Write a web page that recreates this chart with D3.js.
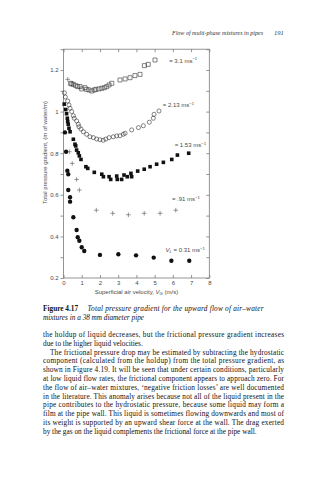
<!DOCTYPE html>
<html>
<head>
<meta charset="utf-8">
<script src="https://cdn.jsdelivr.net/npm/d3@7/dist/d3.min.js"></script>
<style>
  html, body { margin: 0; padding: 0; background: #fff; }
  svg { display: block; }
</style>
</head>
<body>
<svg id="page" width="329" height="480"></svg>
<script>
// Superficial air velocity (m/s) and total pressure gradient (m of water / m)
// for each superficial liquid velocity.
const vl310X = [0.39, 0.45, 0.54, 0.67, 0.78, 0.91, 1.0, 1.18, 1.27, 1.40, 1.55, 1.69, 1.78, 1.95, 2.10, 2.24, 2.37, 2.50, 2.65, 3.10, 3.38, 3.65, 3.92, 4.20, 4.44, 4.65, 5.02];
const vl310Y = [1.136, 1.133, 1.131, 1.125, 1.120, 1.120, 1.109, 1.115, 1.107, 1.104, 1.099, 1.104, 1.107, 1.109, 1.112, 1.115, 1.120, 1.128, 1.136, 1.152, 1.157, 1.163, 1.173, 1.179, 1.221, 1.227, 1.248];

const vl213X = [0.05, 0.10, 0.23, 0.30, 0.36, 0.45, 0.54, 0.59, 0.72, 0.81, 0.85, 0.96, 1.09, 1.27, 1.45, 1.64, 1.82, 2.00, 2.18, 2.32, 2.50, 2.73, 2.92, 3.10, 3.28, 3.38, 3.74, 4.11, 4.38, 4.71, 4.93, 4.97, 5.24];
const vl213Y = [1.09, 1.07, 1.051, 1.032, 1.016, 1.0, 0.98, 0.968, 0.955, 0.939, 0.927, 0.916, 0.903, 0.891, 0.879, 0.875, 0.868, 0.865, 0.862, 0.868, 0.875, 0.879, 0.883, 0.884, 0.891, 0.896, 0.912, 0.923, 0.932, 0.949, 0.968, 0.987, 1.003];

const vl153X = [0.04, 0.12, 0.17, 0.21, 0.23, 0.26, 0.30, 0.36, 0.54, 0.63, 0.67, 0.72, 0.81, 0.87, 0.96, 1.23, 1.33, 1.69, 2.10, 2.19, 2.50, 2.59, 2.92, 2.95, 3.19, 3.32, 3.50, 3.70, 3.74, 4.07, 4.43, 4.75, 5.11, 5.48, 5.94, 6.25, 6.87];
const vl153Y = [1.036, 1.01, 0.99, 0.968, 0.952, 0.939, 0.92, 0.903, 0.867, 0.843, 0.835, 0.815, 0.802, 0.787, 0.77, 0.735, 0.727, 0.708, 0.699, 0.687, 0.687, 0.674, 0.69, 0.674, 0.674, 0.695, 0.687, 0.703, 0.687, 0.714, 0.723, 0.735, 0.747, 0.756, 0.77, 0.791, 0.80];

const vl091X = [0.23, 0.32, 0.48, 0.72, 0.87, 1.80, 2.70, 3.56, 4.43, 5.30, 6.16];
const vl091Y = [1.155, 0.807, 0.751, 0.674, 0.623, 0.526, 0.511, 0.504, 0.511, 0.511, 0.526];

const vl031X = [0.08, 0.14, 0.21, 0.26, 0.26, 0.36, 0.36, 0.54, 0.72, 0.78, 0.87, 1.0, 1.14, 2.0, 3.01, 3.98, 4.95, 5.92, 6.90];
const vl031Y = [0.90, 0.807, 0.716, 0.699, 0.623, 0.588, 0.567, 0.492, 0.431, 0.396, 0.379, 0.348, 0.330, 0.311, 0.314, 0.309, 0.298, 0.283, 0.283];

// Axis ticks
const xTicks = [0, 1, 2, 3, 4, 5, 6, 7, 8];
const yTicks = [0.2, 0.3, 0.4, 0.5, 0.6, 0.7, 0.8, 0.9, 1.0, 1.1, 1.2, 1.3];
const yTickLabels = ["0.2", "", "0.4", "", "0.6", "", "0.8", "", "1", "", "1.2", ""];

// Series labels placed beside the end of each series
const seriesLabels = [
  { prefix: "", text: "= 3.1 ms", gx: 5.8, gy: 1.245 },
  { prefix: "", text: "= 2.13 ms", gx: 5.45, gy: 1.03 },
  { prefix: "", text: "= 1.53 ms", gx: 6.1, gy: 0.84 },
  { prefix: "", text: "= .91 ms", gx: 5.95, gy: 0.578 },
  { prefix: "V", text: " = 0.31 ms", gx: 5.6, gy: 0.335 }
];

const svg = d3.select("#page");

const x = d3.scaleLinear().domain([0, 8]).range([63.5, 209.3]);
const y = d3.scaleLinear().domain([0.2, 1.3]).range([278, 49.2]);

const axisColor = "#7a7a7a";
const labelColor = "#4a4a4a";
const sans = "'Liberation Sans', Arial, sans-serif";
const serif = "'Liberation Serif', 'Times New Roman', serif";

// Running head
const head = svg.append("text")
  .attr("y", 35)
  .attr("font-family", serif)
  .attr("font-size", 6.6)
  .attr("font-style", "italic")
  .attr("fill", "#333");
head.append("tspan").attr("x", 172)
  .attr("textLength", 91).attr("lengthAdjust", "spacingAndGlyphs")
  .text("Flow of multi-phase mixtures in pipes");
head.append("tspan").attr("x", 274).text("191");

// Plot frame
const g = svg.append("g");
g.append("rect")
  .attr("x", x(0)).attr("y", y(1.3))
  .attr("width", x(8) - x(0)).attr("height", y(0.2) - y(1.3))
  .attr("fill", "none").attr("stroke", axisColor).attr("stroke-width", 0.8);

const tickStyle = sel => {
  sel.select(".domain").remove();
  sel.selectAll(".tick line").attr("stroke", axisColor).attr("stroke-width", 0.8);
  sel.selectAll(".tick text").attr("fill", labelColor).attr("font-family", sans).attr("font-size", 6);
};

g.append("g").attr("transform", `translate(0,${y(0.2)})`)
  .call(d3.axisBottom(x).tickValues(xTicks).tickFormat(d3.format("d")).tickSize(-3).tickPadding(3))
  .call(tickStyle);
g.append("g").attr("transform", `translate(0,${y(1.3)})`)
  .call(d3.axisTop(x).tickValues(xTicks).tickFormat("").tickSize(-3))
  .call(tickStyle);
g.append("g").attr("transform", `translate(${x(0)},0)`)
  .call(d3.axisLeft(y).tickValues(yTicks).tickFormat((d, i) => yTickLabels[i]).tickSize(3).tickPadding(2))
  .call(tickStyle);
g.append("g").attr("transform", `translate(${x(8)},0)`)
  .call(d3.axisRight(y).tickValues(yTicks).tickFormat("").tickSize(-3))
  .call(tickStyle);

// Axis titles
g.append("text")
  .attr("transform", `translate(47,${(y(0.2) + y(1.3)) / 2 - 11}) rotate(-90)`)
  .attr("text-anchor", "middle")
  .attr("font-family", sans).attr("font-size", 6).attr("fill", labelColor)
  .text("Total pressure gradient, (m of water/m)");

const xt = g.append("text")
  .attr("x", (x(0) + x(8)) / 2).attr("y", 294)
  .attr("text-anchor", "middle")
  .attr("font-family", sans).attr("font-size", 6).attr("fill", labelColor);
xt.append("tspan").text("Superficial air velocity, ");
xt.append("tspan").attr("font-style", "italic").text("V");
xt.append("tspan").attr("font-style", "italic").attr("font-size", 4.2).attr("dy", 1.3).text("G");
xt.append("tspan").attr("dy", -1.3).text(" (m/s)");

// Marker shapes
const plusType = {
  draw(ctx, size) {
    const r = Math.sqrt(size) / 2;
    ctx.moveTo(-r, 0); ctx.lineTo(r, 0);
    ctx.moveTo(0, -r); ctx.lineTo(0, r);
  }
};
const series = [
  { xs: vl310X, ys: vl310Y, type: d3.symbolSquare, size: 16, fill: "none", stroke: "#333", sw: 0.6 },
  { xs: vl213X, ys: vl213Y, type: d3.symbolCircle, size: 13, fill: "none", stroke: "#333", sw: 0.6 },
  { xs: vl153X, ys: vl153Y, type: d3.symbolSquare, size: 13, fill: "#111", stroke: "none", sw: 0 },
  { xs: vl091X, ys: vl091Y, type: plusType, size: 22, fill: "none", stroke: "#555", sw: 0.6 },
  { xs: vl031X, ys: vl031Y, type: d3.symbolCircle, size: 15, fill: "#111", stroke: "none", sw: 0 }
];

series.forEach(s => {
  const pts = s.xs.map((v, i) => [v, s.ys[i]]);
  g.append("g").selectAll("path").data(pts).join("path")
    .attr("transform", d => `translate(${x(d[0])},${y(d[1])})`)
    .attr("d", d3.symbol(s.type, s.size))
    .attr("fill", s.fill)
    .attr("stroke", s.stroke)
    .attr("stroke-width", s.sw);
});

// Series labels with ms^-1 units
seriesLabels.forEach(l => {
  const t = g.append("text")
    .attr("x", x(l.gx)).attr("y", y(l.gy) + 2)
    .attr("font-family", sans).attr("font-size", 6).attr("fill", labelColor);
  if (l.prefix) {
    t.append("tspan").attr("font-style", "italic").text(l.prefix);
    t.append("tspan").attr("font-style", "italic").attr("font-size", 4.2).attr("dy", 1.3).text("L");
    t.append("tspan").attr("dy", -1.3).text(l.text);
  } else {
    t.append("tspan").text(l.text);
  }
  t.append("tspan").attr("font-size", 4.2).attr("dy", -2.3).text("\u22121");
});

// Caption
const cap = svg.append("text")
  .attr("y", 311)
  .attr("font-family", serif).attr("font-size", 7.3).attr("fill", "#111");
cap.append("tspan").attr("x", 43).attr("font-weight", "bold").text("Figure 4.17");
cap.append("tspan").attr("x", 87.5).attr("font-style", "italic")
  .attr("textLength", 176).attr("lengthAdjust", "spacing")
  .text("Total pressure gradient for the upward flow of air\u2013water");
svg.append("text")
  .attr("x", 43).attr("y", 320)
  .attr("font-family", serif).attr("font-size", 7.3).attr("font-style", "italic").attr("fill", "#111")
  .text("mixtures in a 38\u2009mm diameter pipe");

// Body text: [line, indent, justified]
const bodyLines = [
  ["the holdup of liquid decreases, but the frictional pressure gradient increases", 0, true],
  ["due to the higher liquid velocities.", 0, false],
  ["The frictional pressure drop may be estimated by subtracting the hydrostatic", 7, true],
  ["component (calculated from the holdup) from the total pressure gradient, as", 0, true],
  ["shown in Figure 4.19. It will be seen that under certain conditions, particularly", 0, true],
  ["at low liquid flow rates, the frictional component appears to approach zero. For", 0, true],
  ["the flow of air\u2013water mixtures, \u2018negative friction losses\u2019 are well documented", 0, true],
  ["in the literature. This anomaly arises because not all of the liquid present in the", 0, true],
  ["pipe contributes to the hydrostatic pressure, because some liquid may form a", 0, true],
  ["film at the pipe wall. This liquid is sometimes flowing downwards and most of", 0, true],
  ["its weight is supported by an upward shear force at the wall. The drag exerted", 0, true],
  ["by the gas on the liquid complements the frictional force at the pipe wall.", 0, false]
];
const body = svg.append("g")
  .attr("font-family", serif).attr("font-size", 7.3).attr("fill", "#111");
bodyLines.forEach((ln, i) => {
  const t = body.append("text")
    .attr("x", 43 + ln[1])
    .attr("y", 337 + i * 8.8)
    .text(ln[0]);
  if (ln[2]) t.attr("textLength", 241 - ln[1]).attr("lengthAdjust", "spacing");
});
</script>
</body>
</html>
